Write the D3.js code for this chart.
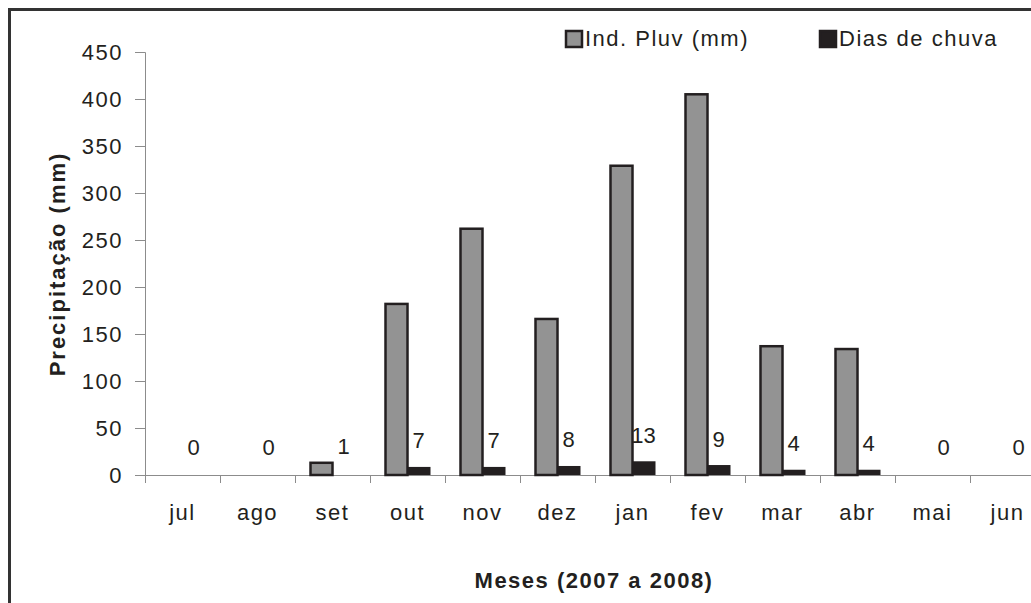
<!DOCTYPE html>
<html lang="pt">
<head>
<meta charset="utf-8">
<title>Precipitação 2007-2008</title>
<script src="https://cdn.jsdelivr.net/npm/d3@7"></script>
<style>
  body { margin: 0; background: #fff; }
  svg { display: block; }
  text { font-family: "Liberation Sans", Arial, sans-serif; fill: #231f20; }
</style>
</head>
<body>
<script>
// data
var months = ["jul", "ago", "set", "out", "nov", "dez", "jan", "fev", "mar", "abr", "mai", "jun"];
var pluv = [0, 0, 13, 182, 262, 166, 329, 405, 137, 134, 0, 0];   // Ind. Pluv (mm)
var dias = [0, 0, 1, 7, 7, 8, 13, 9, 4, 4, 0, 0];                   // Dias de chuva
var yTicks = [0, 50, 100, 150, 200, 250, 300, 350, 400, 450];

var w = 1031, h = 603;
var svg = d3.select("body").append("svg").attr("width", w).attr("height", h);

// outer frame (right and bottom edges are cut off in the original)
svg.append("rect")
  .attr("x", 9.5).attr("y", 9.5)
  .attr("width", 1200).attr("height", 800)
  .attr("fill", "none").attr("stroke", "#333").attr("stroke-width", 3);

var x = d3.scaleBand().domain(months).range([145, 1045]).padding(0);
var y = d3.scaleLinear().domain([0, 450]).range([475, 52]);
var barW = 22;
var axisCol = "#8c8c8c";

// join month + values so filtering keeps the right category
var rows = months.map(function(m, i){ return { m: m, p: pluv[i], d: dias[i] }; });
function mid(r){ return x(r.m) + x.bandwidth() / 2; }

// y axis
var yAxis = svg.append("g").attr("transform", "translate(145,0)")
  .call(d3.axisLeft(y).tickValues(yTicks).tickSize(10).tickPadding(12));
yAxis.select(".domain").attr("stroke", axisCol);
yAxis.selectAll(".tick line").attr("stroke", axisCol);
yAxis.selectAll(".tick text")
  .style("font-size", "22px").style("letter-spacing", "1.5px")
  .attr("fill", "#231f20").attr("font-family", null);

// x axis line + ticks at band edges
svg.append("line")
  .attr("x1", 135).attr("x2", 1045).attr("y1", 475.5).attr("y2", 475.5)
  .attr("stroke", axisCol);
svg.selectAll(".xtick").data(months).enter().append("line")
  .attr("x1", function(d){ return Math.round(x(d)) + 0.5; })
  .attr("x2", function(d){ return Math.round(x(d)) + 0.5; })
  .attr("y1", 475).attr("y2", 483)
  .attr("stroke", axisCol);
svg.selectAll(".xlab").data(months).enter().append("text")
  .attr("x", function(d){ return x(d) + x.bandwidth() / 2; })
  .attr("y", 520)
  .attr("text-anchor", "middle")
  .style("font-size", "22px").style("letter-spacing", "1.5px")
  .text(function(d){ return d; });

// gray bars
svg.selectAll(".pluv").data(rows.filter(function(r){ return r.p > 0; })).enter()
  .append("rect")
  .attr("x", function(r){ return mid(r) - barW; })
  .attr("y", function(r){ return y(r.p); })
  .attr("width", barW)
  .attr("height", function(r){ return y(0) - y(r.p); })
  .attr("fill", "#939393").attr("stroke", "#231f20").attr("stroke-width", 2.5);

// black bars
svg.selectAll(".dias").data(rows.filter(function(r){ return r.d > 1; })).enter()
  .append("rect")
  .attr("x", function(r){ return mid(r); })
  .attr("y", function(r){ return y(r.d) - 1.5; })
  .attr("width", barW + 1)
  .attr("height", function(r){ return y(0) - y(r.d) + 1.5; })
  .attr("fill", "#231f20");

// day labels
svg.selectAll(".dlab").data(rows).enter().append("text")
  .attr("x", function(r){ return mid(r) + barW / 2; })
  .attr("y", function(r){ return y(r.d) - 20; })
  .attr("text-anchor", "middle")
  .style("font-size", "22px")
  .text(function(r){ return r.d; });

// axis titles
svg.append("text")
  .attr("transform", "translate(65,264) rotate(-90)")
  .attr("text-anchor", "middle")
  .style("font-size", "22px").style("font-weight", "bold").style("letter-spacing", "2px")
  .text("Precipitação (mm)");
svg.append("text")
  .attr("x", 594).attr("y", 588)
  .attr("text-anchor", "middle")
  .style("font-size", "22px").style("font-weight", "bold").style("letter-spacing", "1.5px")
  .text("Meses (2007 a 2008)");

// legend
var legend = [
  { label: "Ind. Pluv (mm)", fill: "#939393", x: 565 },
  { label: "Dias de chuva", fill: "#231f20", x: 819 }
];
var lg = svg.selectAll(".lg").data(legend).enter().append("g");
lg.append("rect")
  .attr("x", function(d){ return d.x + 1; }).attr("y", 31)
  .attr("width", 16).attr("height", 16)
  .attr("fill", function(d){ return d.fill; })
  .attr("stroke", "#231f20").attr("stroke-width", 2.5);
lg.append("text")
  .attr("x", function(d){ return d.x + 20; }).attr("y", 46)
  .style("font-size", "22px").style("letter-spacing", "1.5px")
  .text(function(d){ return d.label; });
</script>
</body>
</html>
